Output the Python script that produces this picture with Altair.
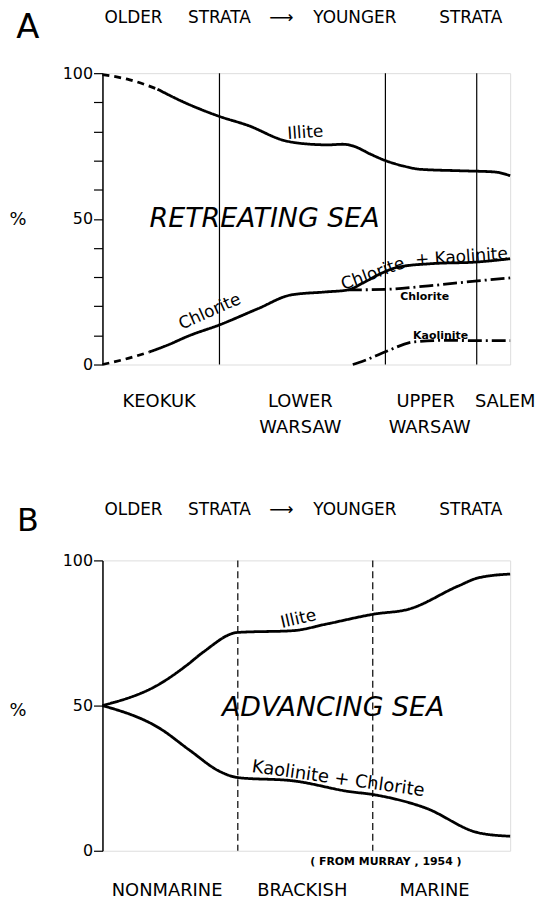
import altair as alt
import pandas as pd

FONT = "DejaVu Sans"
W, H_A, H_B = 410, 293, 292

# ---------------- Panel A (retreating sea) ----------------
A_ILLITE_DASH_X = [0, 6.5, 13.5]
A_ILLITE_DASH_Y = [99.5, 97.8, 94.5]
A_ILLITE_X = [13.5, 19.4, 28.4, 35.8, 44.8, 48.0, 55.3, 59.0, 61.9, 65.6, 69.2, 73.6, 78.0, 87.8, 96.1, 100]
A_ILLITE_Y = [94.5, 90.4, 85.3, 82.0, 76.8, 76.0, 75.4, 75.6, 74.8, 72.3, 70.1, 68.2, 67.0, 66.5, 66.1, 64.8]

A_CK_DASH_X = [0, 6.5, 11.5]
A_CK_DASH_Y = [0, 2.2, 4.3]
A_CK_X = [11.5, 16.2, 21.1, 28.7, 38.2, 46.3, 54.6, 60.2, 63.9, 68.4, 72.4, 80.5, 92.0, 100]
A_CK_Y = [4.3, 6.8, 9.8, 13.6, 19.2, 23.9, 24.9, 25.6, 28.0, 31.3, 33.4, 34.6, 35.2, 36.3]

A_CHLORITE_X = [60.2, 69.4, 80.0, 92.0, 100]
A_CHLORITE_Y = [25.6, 25.8, 27.0, 28.7, 29.7]

A_KAOLINITE_X = [61.4, 64.0, 69.4, 76.6, 84.0, 92.0, 100]
A_KAOLINITE_Y = [0.0, 1.2, 4.4, 7.8, 8.3, 8.2, 8.2]

A_BOUNDARIES = [28.7, 69.4, 91.8]
A_TICKS = [0, 10, 20, 30, 40, 50, 60, 70, 80, 90, 100]

# ---------------- Panel B (advancing sea) ----------------
B_ILLITE_X = [0, 14.1, 20.6, 24.7, 33.2, 46.7, 55.0, 66.6, 75.1, 87.3, 92.2, 100]
B_ILLITE_Y = [50, 57.5, 63.8, 68.4, 75.2, 75.8, 78.1, 81.5, 83.2, 91.2, 94.0, 95.3]

B_KC_X = [0, 14.1, 21.5, 28.8, 33.2, 46.7, 60.5, 66.6, 79.3, 92.2, 100]
B_KC_Y = [50, 42.1, 34.5, 27.3, 25.2, 24.1, 20.4, 19.3, 14.7, 6.2, 5.0]

B_BOUNDARIES = [33.2, 66.3]
B_TICKS = [0, 50, 100]

STYLES = ["solid", "dash", "dashdot"]
dash_scale = alt.Scale(domain=STYLES, range=[[1, 0], [7, 5], [14, 4, 2, 4]])
width_scale = alt.Scale(domain=STYLES, range=[2.8, 2.8, 1.3])
xscale = alt.Scale(domain=[0, 100], nice=False, zero=False)
yscale = alt.Scale(domain=[0, 100], nice=False)


def curve_df(pieces):
    rows = []
    for name, style, xs, ys in pieces:
        for i, (x, y) in enumerate(zip(xs, ys)):
            rows.append({"series": name, "style": style, "x": x, "y": y, "order": i})
    return pd.DataFrame(rows)


def y_axis(values, label_expr=None):
    kw = dict(values=values, title=None, grid=False, tickSize=9, tickColor="black",
              tickWidth=1.2, domainColor="black", domainWidth=1.5, labelFont=FONT,
              labelFontSize=16, labelColor="black", labelPadding=1)
    if label_expr:
        kw["labelExpr"] = label_expr
    return alt.Axis(**kw)


def lines(df, axis):
    return alt.Chart(df).mark_line(interpolate="monotone", color="black").encode(
        x=alt.X("x:Q", scale=xscale, axis=None),
        y=alt.Y("y:Q", scale=yscale, axis=axis),
        detail="series:N",
        order="order:Q",
        strokeDash=alt.StrokeDash("style:N", scale=dash_scale, legend=None),
        strokeWidth=alt.StrokeWidth("style:N", scale=width_scale, legend=None),
    )


def rules(xs, h, dashed):
    kw = dict(color="black", strokeWidth=1.2)
    if dashed:
        kw["strokeDash"] = [7, 4]
    return alt.Chart(pd.DataFrame({"x": xs})).mark_rule(**kw).encode(
        x=alt.X("x:Q", scale=xscale, axis=None), y=alt.value(0), y2=alt.value(h))


def label(text, x, y, size=18, angle=0, style="normal", weight="normal", align="center"):
    return alt.Chart(alt.Data(values=[{}])).mark_text(
        text=text, font=FONT, fontSize=size, angle=angle, fontStyle=style,
        fontWeight=weight, align=align, baseline="middle", color="black"
    ).encode(x=alt.value(x), y=alt.value(y))


def header(y):
    return [
        label("OLDER", 2, y, size=17, align="left"),
        label("STRATA", 86, y, size=17, align="left"),
        label("⟶", 180, y, size=17),
        label("YOUNGER", 212, y, size=17, align="left"),
        label("STRATA", 402, y, size=17, align="right"),
    ]


dfA = curve_df([
    ("illite_d", "dash", A_ILLITE_DASH_X, A_ILLITE_DASH_Y),
    ("illite", "solid", A_ILLITE_X, A_ILLITE_Y),
    ("ck_d", "dash", A_CK_DASH_X, A_CK_DASH_Y),
    ("ck", "solid", A_CK_X, A_CK_Y),
    ("chl", "dashdot", A_CHLORITE_X, A_CHLORITE_Y),
    ("kao", "dashdot", A_KAOLINITE_X, A_KAOLINITE_Y),
])

dfB = curve_df([
    ("illite", "solid", B_ILLITE_X, B_ILLITE_Y),
    ("kc", "solid", B_KC_X, B_KC_Y),
])

textsA = [
    label("A", -75, -45, size=34),
    *header(-55),
    label("%", -85, 148, size=18),
    label("RETREATING  SEA", 163, 147, size=27, style="italic"),
    label("Illite", 204, 60, size=17, angle=356),
    label("Chlorite", 108, 240, size=17, angle=336),
    label("Chlorite", 272, 202, size=17, angle=340),
    label("+ Kaolinite", 361, 185, size=17, angle=356),
    label("Chlorite", 324, 225, size=11, weight="bold"),
    label("Kaolinite", 340, 264, size=11, weight="bold"),
    label("KEOKUK", 57, 331),
    label("LOWER", 199, 331),
    label("WARSAW", 199, 357),
    label("UPPER", 325, 331),
    label("WARSAW", 329, 357),
    label("SALEM", 405, 331),
]

textsB = [
    label("B", -75, -40, size=32),
    *header(-51),
    label("%", -85, 151, size=18),
    label("ADVANCING  SEA", 232, 148, size=27, style="italic"),
    label("Illite", 197, 59, size=17, angle=347),
    label("Kaolinite + Chlorite", 237, 220, size=18, angle=8),
    label("( FROM  MURRAY ,  1954 )", 285, 303, size=11, weight="bold"),
    label("NONMARINE", 65, 332),
    label("BRACKISH", 201, 332),
    label("MARINE", 334, 332),
]

panelA = alt.layer(
    lines(dfA, y_axis(A_TICKS, "datum.value % 50 === 0 ? datum.label : ''")),
    rules(A_BOUNDARIES, H_A, False),
    *textsA,
).properties(width=W, height=H_A)

panelB = alt.layer(
    lines(dfB, y_axis(B_TICKS)),
    rules(B_BOUNDARIES, H_B, True),
    *textsB,
).properties(width=W, height=H_B)

chart = alt.vconcat(panelA, panelB, spacing=197, bounds="flush").properties(
    padding={"left": 0, "top": -2, "right": 0, "bottom": 0}
).configure_view(stroke="black", strokeWidth=1.5).configure(background="white")

chart.save("out.html", embed_options={"renderer": "svg", "actions": False})
